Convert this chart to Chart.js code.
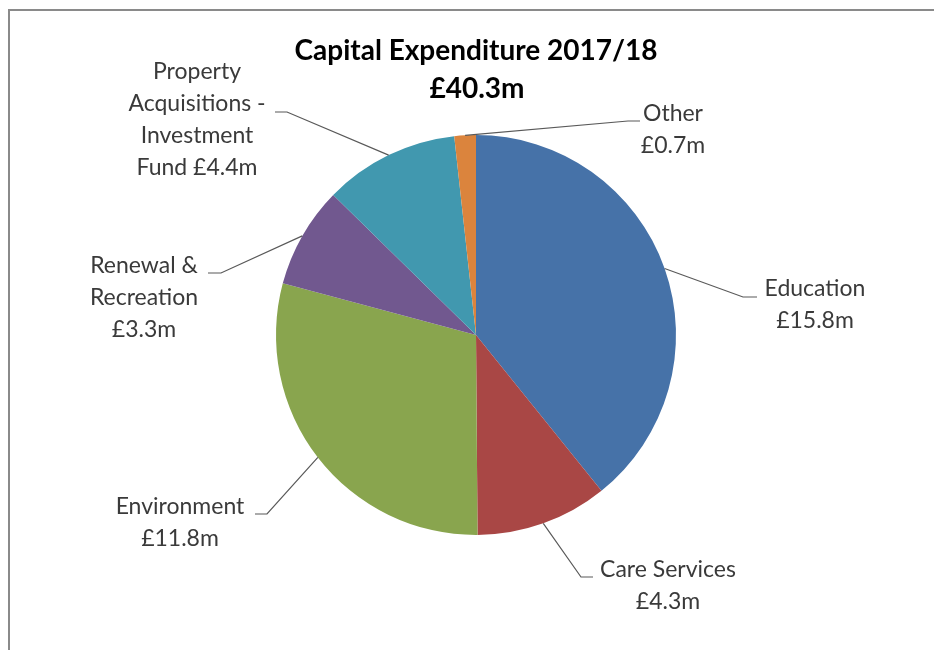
<!DOCTYPE html>
<html>
<head>
<meta charset="utf-8">
<script src="https://cdn.jsdelivr.net/npm/chart.js@4/dist/chart.umd.min.js"></script>
<style>
  html, body { margin: 0; padding: 0; background: #fff; overflow: hidden; }
  #wrap { position: relative; width: 934px; height: 650px; }
  #frame { position: absolute; left: 8px; top: 9px; width: 1000px; height: 700px; border: 2px solid #8a8a8a; box-sizing: border-box; }
  canvas { position: absolute; left: 0; top: 0; }
</style>
</head>
<body>
<div id="wrap">
  <div id="frame"></div>
  <canvas id="capexChart" width="934" height="650"></canvas>
</div>
<script>
const categories = ['Education', 'Care Services', 'Environment', 'Renewal & Recreation', 'Property Acquisitions - Investment Fund', 'Other']
const spend = [15.8, 4.3, 11.8, 3.3, 4.4, 0.7]
const colours = ['#4672A8', '#A94745', '#89A54E', '#71588F', '#4198AF', '#DB843D']
const totalLabel = '£40.3m'

// label text per slice, and where each label sits (x centre, first line y, elbow of the leader)
const labelLines = [
  ['Education', '£15.8m'],
  ['Care Services', '£4.3m'],
  ['Environment', '£11.8m'],
  ['Renewal &', 'Recreation', '£3.3m'],
  ['Property', 'Acquisitions -', 'Investment', 'Fund £4.4m'],
  ['Other', '£0.7m'],
]
const labelPos = [
  { x: 815, y: 289, ex: 743, ey: 297, hx: 757 },
  { x: 668, y: 570, ex: 581, ey: 577, hx: 593 },
  { x: 180, y: 507, ex: 267, ey: 514, hx: 255 },
  { x: 144, y: 266, ex: 221, ey: 273, hx: 208 },
  { x: 197, y: 72, ex: 287, ey: 112, hx: 275 },
  { x: 673, y: 114, ex: 628, ey: 121, hx: 640 },
]

const calloutPlugin = {
  id: 'callouts',
  afterDatasetsDraw(chart) {
    const ctx = chart.ctx
    const arcs = chart.getDatasetMeta(0).data
    ctx.save()
    ctx.strokeStyle = '#595959'
    ctx.lineWidth = 1.2
    arcs.forEach((arc, i) => {
      const p = labelPos[i]
      const mid = (arc.startAngle + arc.endAngle) / 2
      const sx = arc.x + Math.cos(mid) * arc.outerRadius
      const sy = arc.y + Math.sin(mid) * arc.outerRadius
      ctx.beginPath()
      ctx.moveTo(sx, sy)
      ctx.lineTo(p.ex, p.ey)
      ctx.lineTo(p.hx, p.ey)
      ctx.stroke()

      ctx.fillStyle = '#3a3a3a'
      ctx.font = '23px Lato'
      ctx.textAlign = 'center'
      ctx.textBaseline = 'middle'
      labelLines[i].forEach((line, j) => ctx.fillText(line, p.x, p.y + j * 32))
    })

    // two-line heading
    ctx.fillStyle = '#000'
    ctx.font = 'bold 28px Lato'
    ctx.fillText('Capital Expenditure 2017/18', 476, 51)
    ctx.fillText(totalLabel, 477, 89)
    ctx.restore()
  }
}

new Chart(document.getElementById('capexChart'), {
  type: 'pie',
  data: {
    labels: categories,
    datasets: [{
      data: spend,
      backgroundColor: colours,
      borderWidth: 0,
    }]
  },
  options: {
    responsive: false,
    animation: false,
    layout: {
      padding: { left: 276, right: 258, top: 135, bottom: 115 }
    },
    plugins: {
      legend: { display: false },
      tooltip: { enabled: false },
    }
  },
  plugins: [calloutPlugin]
})
</script>
</body>
</html>
